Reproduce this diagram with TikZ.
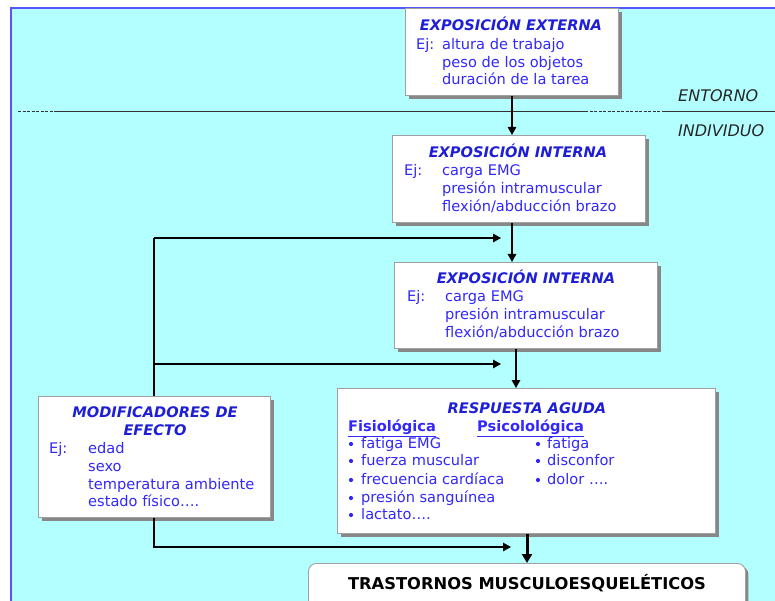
\documentclass[tikz,border=0pt]{standalone}
\usepackage{fontspec}
\setmainfont{DejaVu Sans}
\usetikzlibrary{arrows.meta,calc,shadows}
\definecolor{bg}{RGB}{179,255,255}
\definecolor{frame}{RGB}{85,85,255}
\definecolor{txt}{RGB}{50,40,250}
\definecolor{ttl}{RGB}{30,30,215}
\definecolor{boxline}{RGB}{160,160,160}
\definecolor{shade}{RGB}{135,135,135}
\tikzset{
  box/.style={draw=boxline, fill=white, line width=0.9pt, inner sep=0pt, anchor=north west,
    drop shadow={shadow xshift=4pt, shadow yshift=-4pt, fill=shade, opacity=1}},
  tx/.style={anchor=base west, inner sep=0pt, font=\fontsize{14.6}{16}\selectfont, text=txt},
  ttlstyle/.style={anchor=base, inner sep=0pt, font=\fontsize{14.6}{16}\selectfont\bfseries\itshape, text=ttl},
  sub/.style={anchor=base west, inner sep=0pt, font=\fontsize{14.6}{16}\selectfont\bfseries, text=txt},
  bul/.style={circle, fill=txt, inner sep=0pt, minimum size=4.2pt},
  conn/.style={line width=1.4pt, -{Triangle[length=8pt,width=8.5pt]}},
  thickconn/.style={line width=3pt, -{Triangle[length=9pt,width=10pt]}},
  sepline/.style={line width=0.9pt, draw=black!80},
  side/.style={anchor=base west, inner sep=0pt, font=\fontsize{16}{18}\selectfont\itshape, text=black!85},
}
\begin{document}
\begin{tikzpicture}[x=1pt,y=-1pt]
\useasboundingbox (0,0) rectangle (775,601);
\clip (0,0) rectangle (775,601);
% background
\fill[bg] (11,8) rectangle (780,605);
\draw[frame, line width=1.3pt] (11,605) -- (11,8) -- (780,8);
% separator line
\draw[sepline, dashed, dash pattern=on 3pt off 1.5pt] (18,111) -- (54,111);
\draw[sepline] (54,111) -- (585,111);
\draw[sepline, dashed, dash pattern=on 3pt off 1.5pt] (585,111) -- (663,111);
\draw[sepline] (663,111) -- (780,111);
\node[side] (entorno) at (678,102) {ENTORNO};
\node[side] (individuo) at (678,137) {INDIVIDUO};

% Box 1
\node[box, minimum width=213pt, minimum height=87pt] (b1) at (405,8) {};
\node[ttlstyle] (b1t) at (511,30.5) {EXPOSICIÓN EXTERNA};
\node[tx] (b1e) at (416,49.5) {Ej:};
\node[tx] (b1a) at (442,49.5) {altura de trabajo};
\node[tx] (b1b) at (442,67.5) {peso de los objetos};
\node[tx] (b1c) at (442,84.5) {duración de la tarea};

% Box 2
\node[box, minimum width=253pt, minimum height=87pt] (b2) at (392,135) {};
\node[ttlstyle] (b2t) at (518,157.5) {EXPOSICIÓN INTERNA};
\node[tx] (b2e) at (404,175.5) {Ej:};
\node[tx] (b2a) at (442,175.5) {carga EMG};
\node[tx] (b2b) at (442,193.5) {presión intramuscular};
\node[tx] (b2c) at (442,211.5) {flexión/abducción brazo};

% Box 3
\node[box, minimum width=263pt, minimum height=86pt] (b3) at (394,262) {};
\node[ttlstyle] (b3t) at (526,283.5) {EXPOSICIÓN INTERNA};
\node[tx] (b3e) at (407,301.5) {Ej:};
\node[tx] (b3a) at (445,301.5) {carga EMG};
\node[tx] (b3b) at (445,319.5) {presión intramuscular};
\node[tx] (b3c) at (445,337.5) {flexión/abducción brazo};

% Box modificadores
\node[box, minimum width=232pt, minimum height=121pt] (bm) at (38,396) {};
\node[ttlstyle] (bmt1) at (155,417.5) {MODIFICADORES DE};
\node[ttlstyle] (bmt2) at (155,435.5) {EFECTO};
\node[tx] (bme) at (49,453.5) {Ej:};
\node[tx] (bma) at (88,453.5) {edad};
\node[tx] (bmb) at (88,471.5) {sexo};
\node[tx] (bmc) at (88,489.5) {temperatura ambiente};
\node[tx] (bmd) at (88,506.5) {estado físico….};

% Box respuesta aguda
\node[box, minimum width=378pt, minimum height=145pt] (b4) at (337,388) {};
\node[ttlstyle] (b4t) at (527,413.5) {RESPUESTA AGUDA};
\node[sub] (fis) at (348,431.5) {\underline{Fisiológica}};
\node[sub] (psi) at (477,431.5) {\underline{Psicolológica}};
\foreach \n/\yy/\s in {1/448.5/fatiga EMG, 2/465.5/fuerza muscular, 3/484.5/frecuencia cardíaca, 4/502.5/presión sanguínea, 5/519.5/lactato….}{
  \node[bul] (fb\n) at (351,\yy-4.5) {};
  \node[tx] (ft\n) at (361,\yy) {\s};
}
\foreach \n/\yy/\s in {1/448.5/fatiga, 2/465.5/disconfor, 3/484.5/dolor ….}{
  \node[bul] (pb\n) at (538,\yy-4.5) {};
  \node[tx] (pt\n) at (547,\yy) {\s};
}

% Trastornos
\node[draw=boxline, fill=white, line width=0.9pt, rounded corners=8pt, anchor=north west,
  minimum width=437pt, minimum height=60pt, inner sep=0pt,
  drop shadow={shadow xshift=3pt, shadow yshift=-3pt, fill=shade, opacity=1}] (tr) at (308,563) {};
\node[anchor=base, inner sep=0pt, font=\fontsize{16.3}{18}\selectfont\bfseries, text=black] (trt) at (527,589) {TRASTORNOS MUSCULOESQUELÉTICOS};

% main connectors
\draw[conn] (b1.south -| 512,0) -- (b2.north -| 512,0);
\draw[conn] (b2.south -| 512,0) -- (b3.north -| 512,0);
\draw[conn] (b3.south -| 516,0) -- (b4.north -| 516,0);
\draw[thickconn] (b4.south -| 527,0) -- (tr.north -| 527,0);

% modifier feedback
\coordinate (fa) at (501,238);
\coordinate (fc) at (501,364);
\coordinate (fd) at (511,547);
\draw[line width=1.4pt] (bm.north -| 154,0) -- (154,238);
\draw[conn] (154,238) -- (fa);
\draw[conn] (154,364) -- (fc);
\draw[conn] (bm.south -| 154,0) -- (154,547) -- (fd);
\end{tikzpicture}
\end{document}
